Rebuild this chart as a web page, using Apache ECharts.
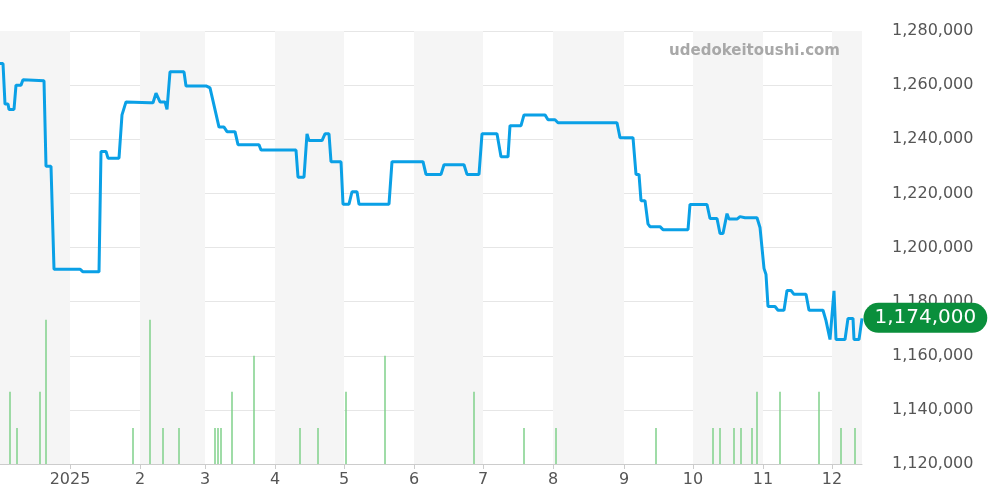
<!DOCTYPE html><html><head><meta charset="utf-8"><script src="https://cdn.jsdelivr.net/npm/echarts@6/dist/echarts.min.js"></script></head><body style="margin:0"><div id="c" style="width:1000px;height:500px"></div><script>
// time coordinate t: linear time index (Dec 1 2024 = 0, ~70 per month)
const monthStarts=[0,70,140,205,275,344,414,483,553,624,693,763,832];
const monthLabels=['','2025','2','3','4','5','6','7','8','9','10','11','12'];
const priceT=[0,3,5,8,9,14,16,21,23,25,44,46,51,54,80,83,99,101,106,108,119,122,124,126,150,153,156,158,160,165,167,170,184,186,206,210,213,215,219,224,227,235,238,259,261,296,298,304,307,309,322,325,329,331,341,343,349,352,357,359,389,392,423,426,441,444,464,467,479,482,497,501,508,510,521,524,545,548,555,558,617,620,633,636,639,641,645,648,650,660,663,688,690,707,710,717,720,723,727,729,737,740,745,757,760,762,764,765,766,768,775,778,784,787,791,794,806,809,823,826,830,832,834,836,845,848,853,854,859,862];
const priceK=[1268,1268,1253,1253,1251,1251,1260,1260,1262,1261.6,1261.6,1230,1230,1192,1192,1191,1191,1235.5,1235.5,1233,1233,1249,1249,1253.8,1253.5,1253.5,1257,1257,1253.8,1253.8,1251,1264.9,1264.9,1259.7,1259.7,1259,1254.2,1254,1244.5,1244.5,1242.8,1242.8,1238,1238,1236,1236,1226,1226,1242,1239.5,1239.5,1242,1242,1231.7,1231.7,1216,1216,1220.6,1220.6,1216,1216,1231.7,1231.7,1227,1227,1230.6,1230.6,1227,1227,1242,1242,1233.5,1233.5,1245,1245,1249,1249,1247.2,1247.2,1246.1,1246.1,1240.6,1240.6,1227,1227,1217.3,1217.3,1208.7,1207.7,1207.7,1206.6,1206.6,1215.9,1215.9,1210.7,1210.7,1205.2,1205.2,1212.5,1210.5,1210.5,1211.4,1211,1211,1207.4,1207,1192.3,1193,1190,1178.2,1178.2,1176.8,1176.8,1184.1,1184.1,1182.7,1182.7,1176.8,1176.8,1173,1166,1166,1184,1166,1166,1173.8,1173.8,1166,1166,1173.8];
const volT=[10,17,40,46,133,150,163,179,215,218,221,232,254,300,318,346,385,474,524,556,656,713,720,734,741,752,757,780,819,841,855];
const volV=[1,0.5,1,2,0.5,2,0.5,0.5,0.5,0.5,0.5,1,1.5,0.5,0.5,1,1.5,1,0.5,0.5,0.5,0.5,0.5,0.5,0.5,0.5,1,1,1,0.5,0.5];
const lastPrice=1174000;
const bands=[];for(let i=0;i<monthStarts.length;i+=2){bands.push([{xAxis:monthStarts[i]},{xAxis:monthStarts[i+1]??862}]);}
const ch=echarts.init(document.getElementById('c'));
ch.setOption({animation:false,
grid:{left:0,right:138,top:31,bottom:36},
graphic:[{type:'text',z:100,right:160,top:44,style:{text:'udedokeitoushi.com',fill:'#a8a8a8',font:'bold 15px "DejaVu Sans"'}}],
xAxis:{type:'value',min:0,max:862,splitLine:{show:false},
 axisLine:{lineStyle:{color:'#ccc'}},axisTick:{show:true,customValues:monthStarts.slice(1),lineStyle:{color:'#ccc'}},
 axisLabel:{customValues:monthStarts.slice(1),formatter:v=>monthLabels[monthStarts.indexOf(v)],color:'#555',fontSize:16,fontFamily:'DejaVu Sans'}},
yAxis:[{type:'value',position:'right',min:1120000,max:1280000,interval:20000,
 axisLabel:{margin:30,color:'#555',fontSize:16,fontFamily:'DejaVu Sans',formatter:v=>v.toLocaleString('en-US')},
 splitLine:{lineStyle:{color:'#e6e6e6'}},axisLine:{show:false},axisTick:{show:false}},
 {type:'value',min:0,max:6,show:false}],
series:[
{type:'line',data:[],markArea:{silent:true,itemStyle:{color:'#f5f5f5'},data:bands}},
{type:'bar',yAxisIndex:1,barWidth:1.5,itemStyle:{color:'#7fd08a'},data:volT.map((t,i)=>[t,volV[i]])},
{type:'line',symbol:'none',clip:false,lineStyle:{color:'#0aa0e6',width:3},data:priceT.map((t,i)=>[t,priceK[i]*1000]),
 markPoint:{symbol:'rect',symbolSize:1,itemStyle:{color:'rgba(0,0,0,0)'},silent:true,data:[{coord:[862,lastPrice]}],
 label:{show:true,position:'right',distance:1,formatter:lastPrice.toLocaleString('en-US'),color:'#fff',fontSize:20,fontFamily:'DejaVu Sans',backgroundColor:'#0a8f3c',borderRadius:16,padding:[5,11]}}}
]});
</script></body></html>
